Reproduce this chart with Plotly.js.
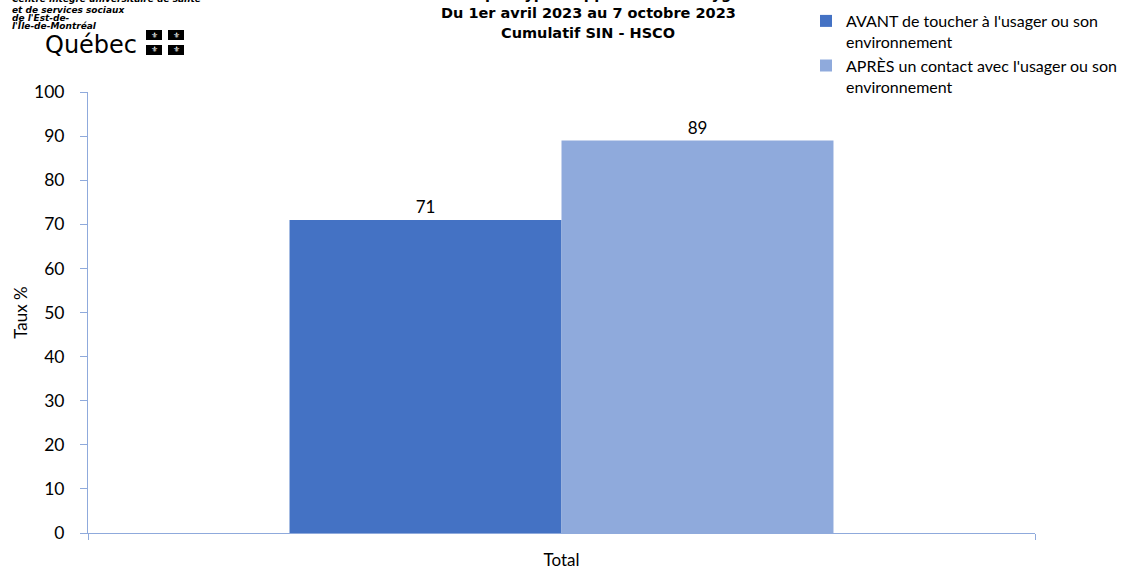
<!DOCTYPE html>
<html>
<head>
<meta charset="utf-8">
<script src="https://cdn.plot.ly/plotly-3.0.1.min.js"></script>
<style>html,body{margin:0;padding:0;background:#fff;}#chart{width:1121px;height:571px;}</style>
</head>
<body>
<div id="chart"></div>
<script>
const categories = ["Total"];
const seriesNames = [
  "AVANT de toucher à l'usager ou son<br>environnement",
  "APRÈS un contact avec l'usager ou son<br>environnement"
];
const avantValues = [71];
const apresValues = [89];
const yTickValues = [0, 10, 20, 30, 40, 50, 60, 70, 80, 90, 100];
const titleLines = [
  "Taux de conformité par type d'opportunité en hygiène des mains",
  "Du 1er avril 2023 au 7 octobre 2023",
  "Cumulatif SIN - HSCO"
];
const logoLines = [
  "Centre intégré universitaire de santé",
  "et de services sociaux",
  "de l'Est-de-",
  "l'Île-de-Montréal"
];
const logoWord = "Québec";

const FONT = "Lato, 'Noto Sans', sans-serif";
const WIDE = "'DejaVu Sans', sans-serif";
const AXIS_COLOR = "#8FAADC";
const W = 1121, H = 571, L = 88, R = 86, T = 92, B = 38;
const PW = W - L - R, PH = H - T - B;
const px = x => (x - L) / PW;
const py = y => (H - B - y) / PH;

const traces = [
  {
    type: "bar", x: categories, y: avantValues, name: seriesNames[0],
    marker: {color: "#4472C4", line: {width: 0}},
    text: avantValues.map(String), textposition: "outside", cliponaxis: false,
    textfont: {family: FONT, size: 17, color: "#000"}
  },
  {
    type: "bar", x: categories, y: apresValues, name: seriesNames[1],
    marker: {color: "#8FAADC", line: {width: 0}},
    text: apresValues.map(String), textposition: "outside", cliponaxis: false,
    textfont: {family: FONT, size: 17, color: "#000"}
  }
];

const shapes = [];
const annotations = [];
// title lines (the first line is cut by the top edge, as in the reference)
const titleY = [-6, 13, 33];
titleLines.forEach((t, i) => {
  annotations.push({
    xref: "paper", yref: "paper", x: px(588), y: py(titleY[i]), xanchor: "center", yanchor: "middle",
    text: "<b>" + t + "</b>", showarrow: false,
    font: {family: WIDE, size: 14.5, color: "#000"}
  });
});
// logo text lines (first line cut at top edge, as in the reference)
const logoY = [-1, 10, 18, 26];
logoLines.forEach((t, i) => {
  annotations.push({
    xref: "paper", yref: "paper", x: px(10), y: py(logoY[i]), xanchor: "left", yanchor: "middle",
    text: "<b><i>" + t + "</i></b>", showarrow: false, align: "left",
    font: {family: WIDE, size: 9, color: "#000"}
  });
});
annotations.push({
  xref: "paper", yref: "paper", x: px(43), y: py(45), xanchor: "left", yanchor: "middle",
  text: logoWord, showarrow: false,
  font: {family: WIDE, size: 24, color: "#000"}
});
// flags
const flagBoxes = [[146,30],[168,30],[146,45],[168,45]];
flagBoxes.forEach(([fx, fy]) => {
  shapes.push({type: "rect", xref: "paper", yref: "paper",
    x0: px(fx), x1: px(fx+16), y0: py(fy), y1: py(fy+10),
    fillcolor: "#000", line: {width: 0}});
  annotations.push({xref: "paper", yref: "paper", x: px(fx+8), y: py(fy+5),
    text: "⚜", showarrow: false, font: {size: 8, color: "#fff", family: "DejaVu Sans"},
    xanchor: "center", yanchor: "middle"});
});

const layout = {
  width: W, height: H,
  margin: {l: L, r: R, t: T, b: B, pad: 0, autoexpand: false},
  paper_bgcolor: "#fff", plot_bgcolor: "#fff",
  barmode: "group", bargap: 0.4256, bargroupgap: 0,
  showlegend: true,
  legend: {
    x: px(806), y: py(4), xanchor: "left", yanchor: "top", valign: "top",
    font: {family: FONT, size: 16, color: "#000"}, bgcolor: "rgba(0,0,0,0)",
    itemwidth: 30, tracegroupgap: 0
  },
  xaxis: {
    type: "category", showgrid: false, zeroline: false,
    showline: true, linecolor: AXIS_COLOR, linewidth: 1,
    ticks: "outside", tickson: "boundaries", ticklen: 6, tickcolor: AXIS_COLOR,
    ticklabelstandoff: 12,
    tickfont: {family: FONT, size: 17, color: "#000"}, fixedrange: true
  },
  yaxis: {
    range: [0, 100], tickvals: yTickValues, showgrid: false, zeroline: false,
    showline: true, linecolor: AXIS_COLOR, linewidth: 1,
    ticks: "outside", ticklen: 7, tickcolor: AXIS_COLOR, ticklabelstandoff: 12,
    tickfont: {family: FONT, size: 17.5, color: "#000"},
    title: {text: "Taux %", font: {family: FONT, size: 17, color: "#000"}, standoff: 2}
  },
  shapes: shapes,
  annotations: annotations
};

Plotly.newPlot("chart", traces, layout, {displayModeBar: false, staticPlot: true});
</script>
</body>
</html>
